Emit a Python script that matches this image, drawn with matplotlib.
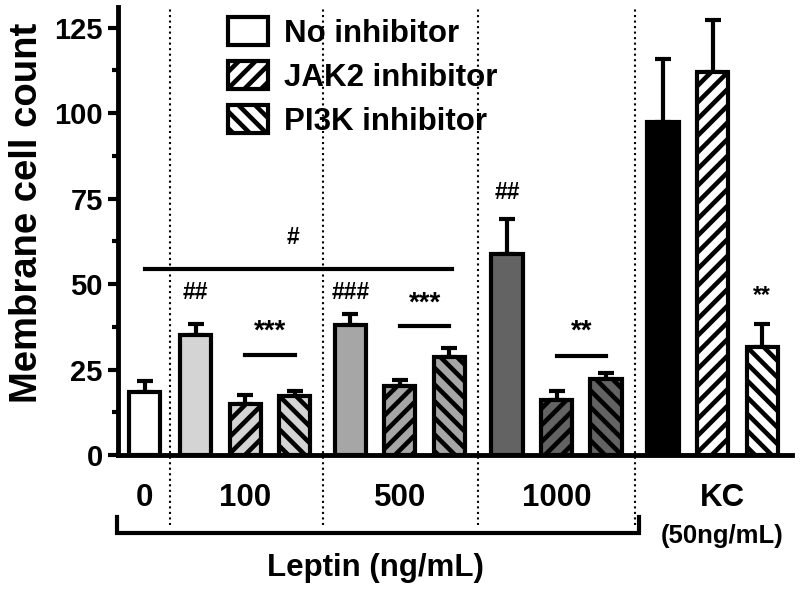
import numpy as np
import matplotlib.pyplot as plt
from matplotlib.patches import Patch
from matplotlib.ticker import MultipleLocator

plt.rcParams['font.family'] = ['Liberation Sans', 'DejaVu Sans']
plt.rcParams['font.weight'] = 'bold'
plt.rcParams['axes.labelweight'] = 'bold'
plt.rcParams['hatch.linewidth'] = 3.3

# values
group_labels = ['0', '100', '500', '1000', 'KC']
bar_group = [0, 1, 1, 1, 2, 2, 2, 3, 3, 3, 4, 4, 4]
bar_treat = ['none', 'none', 'jak2', 'pi3k', 'none', 'jak2', 'pi3k',
             'none', 'jak2', 'pi3k', 'none', 'jak2', 'pi3k']
means = [18.5, 35.1, 15.0, 17.3, 38.1, 20.2, 28.7, 58.8, 16.1, 22.3, 97.3, 111.9, 31.6]
errs = [3.2, 3.2, 2.6, 1.4, 3.2, 1.8, 2.6, 10.2, 2.7, 1.7, 18.5, 15.2, 6.7]
bar_colors = ['white', '#d4d4d4', '#d4d4d4', '#d4d4d4', '#a6a6a6', '#a6a6a6', '#a6a6a6',
              '#636363', '#636363', '#636363', 'black', 'white', 'white']

# annotations: (bar index, text, y)
marks = [(1, '##', 47.6), (4, '###', 47.6), (7, '##', 76.8), (12, '**', 46.7)]
# pair lines: (bar a, bar b, line y, text, text y)
pairs = [(2, 3, 29.2, '***', 36.0), (5, 6, 37.7, '***', 44.2), (8, 9, 28.9, '**', 36.0)]
overall = (0, 6, 54.3, '#', 63.7)

hatches = {'none': '', 'jak2': '//', 'pi3k': '\\\\'}
group_gap = [0.0, 0.03, 0.15, 0.31, 0.46]
pos = np.array([i + group_gap[g] for i, g in enumerate(bar_group)])

fig = plt.figure(figsize=(8, 5.9), dpi=100)
ax = fig.add_axes([0.1475, 0.2288, 0.8425, 0.7592])

ax.errorbar(pos, means, yerr=[np.zeros(len(errs)), errs], fmt='none', ecolor='black',
            elinewidth=3, capsize=5.5, capthick=3, zorder=2)
for x, m, c, t in zip(pos, means, bar_colors, bar_treat):
    ax.bar(x, m, width=0.63, color=c, edgecolor='black', linewidth=3,
           hatch=hatches[t], zorder=3)

ax.set_xlim(-0.535, 13.06)
ax.set_ylim(0, 131)
ax.set_yticks([0, 25, 50, 75, 100, 125])
ax.yaxis.set_minor_locator(MultipleLocator(12.5))
ax.tick_params(axis='y', which='major', length=7, width=3, labelsize=21, pad=4)
ax.tick_params(axis='y', which='minor', length=4, width=3)
ax.set_xticks([])
for s in ['top', 'right']:
    ax.spines[s].set_visible(False)
for s in ['left', 'bottom']:
    ax.spines[s].set_linewidth(3.5)
ax.set_ylabel('Membrane cell count', fontsize=27.5, fontweight='bold')
ax.yaxis.set_label_coords(-0.108, 0.54)

# dotted separators between groups
for g in range(1, len(group_labels)):
    first = bar_group.index(g)
    xs = (pos[first - 1] + pos[first]) / 2
    ax.plot([xs, xs], [-20.4, 131], color='black', linestyle=':', linewidth=1.5,
            clip_on=False, zorder=1)

# group labels
for g, lab in enumerate(group_labels):
    idx = [i for i, b in enumerate(bar_group) if b == g]
    xc = pos[idx].mean()
    if lab == 'KC':
        xc += 0.2
    ax.text(xc, -12.6, lab, ha='center', va='center', fontsize=22.5, clip_on=False)
kc_x = pos[[i for i, b in enumerate(bar_group) if b == 4]].mean() + 0.2
ax.text(kc_x, -23.6, '(50ng/mL)', ha='center', va='center', fontsize=18.5)

# bracket under leptin groups
xl, xr = -0.556, 9.97
ax.plot([xl, xl, xr, xr], [-18.1, -22.8, -22.8, -18.1], color='black', linewidth=3,
        clip_on=False, solid_joinstyle='miter')
ax.text((xl + xr) / 2 - 0.05, -33, 'Leptin (ng/mL)', ha='center', va='center', fontsize=22.5)

# significance marks
for i, txt, y in marks:
    ax.text(pos[i], y, txt, ha='center', va='center', fontsize=16.5)
for a, b, ly, txt, ty in pairs:
    ax.plot([pos[a], pos[b]], [ly, ly], color='black', linewidth=3, zorder=4)
    ax.text((pos[a] + pos[b]) / 2, ty, txt, ha='center', va='center', fontsize=20)
a, b, ly, txt, ty = overall
ax.plot([pos[a], pos[b] + 0.05], [ly, ly], color='black', linewidth=3, zorder=4)
ax.text(3.0, ty, txt, ha='center', va='center', fontsize=16.5)

handles = [Patch(facecolor='white', edgecolor='black', linewidth=3, hatch=hatches[t])
           for t in ['none', 'jak2', 'pi3k']]
ax.legend(handles, ['No inhibitor', 'JAK2 inhibitor', 'PI3K inhibitor'],
          loc='upper left', bbox_to_anchor=(228 / 800, 1 - 17 / 590),
          bbox_transform=fig.transFigure, frameon=False, fontsize=22.5,
          borderpad=0, borderaxespad=0, handlelength=1.28, handleheight=1.0,
          handletextpad=0.5, labelspacing=0.4)

fig.savefig('out.png', dpi=100)
